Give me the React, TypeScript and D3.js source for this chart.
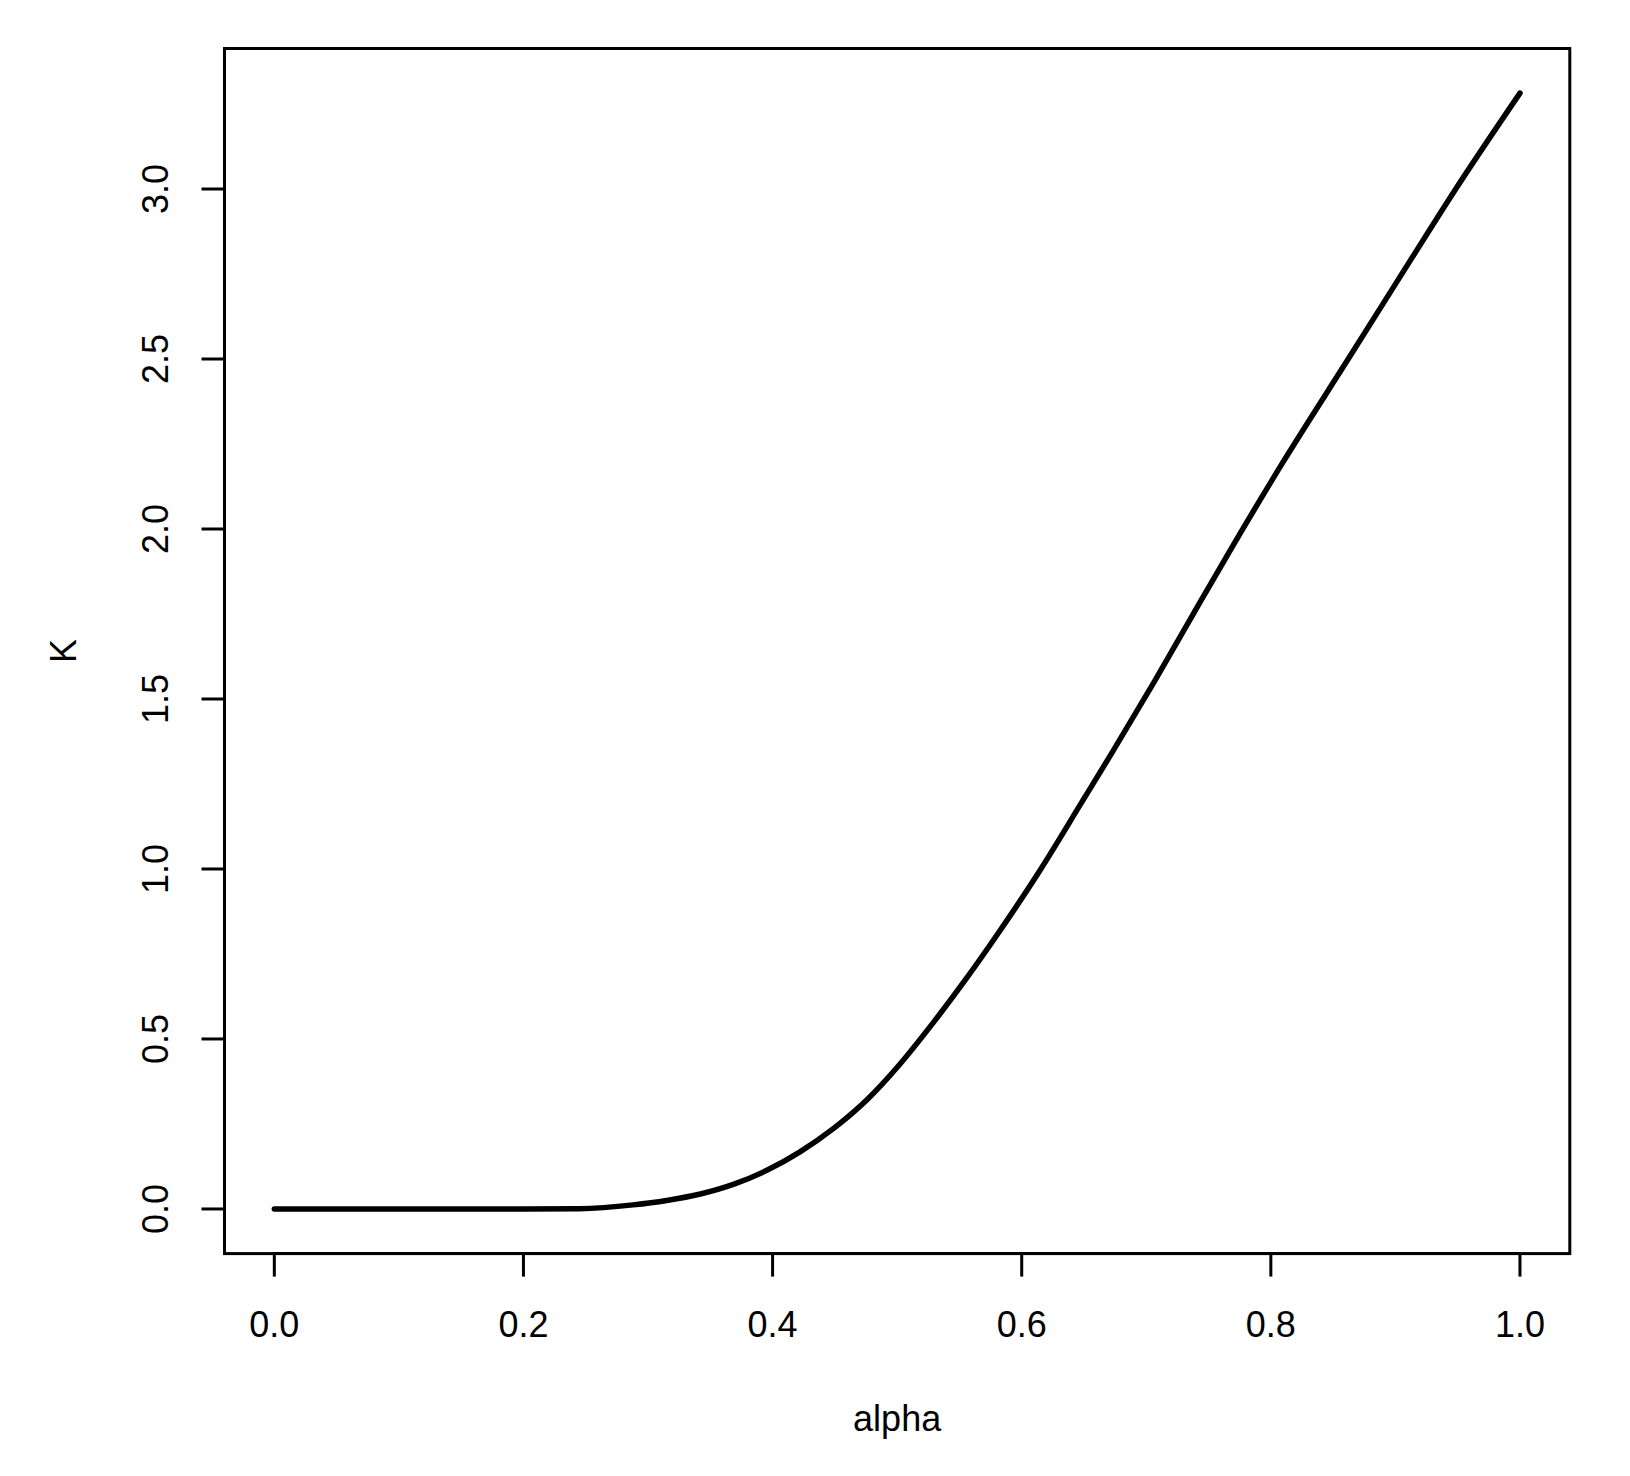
import { useRef, useEffect } from 'react';
import * as d3 from 'd3';

// values
const alpha = [0, 0.1, 0.2, 0.245, 0.288, 0.315, 0.342, 0.369, 0.395, 0.422, 0.449, 0.476, 0.502, 0.529, 0.555, 0.58, 0.615, 0.648, 0.673, 0.706, 0.738, 0.771, 0.81, 0.863, 0.912, 0.947, 1.0];
const kValues = [0, 0, 0, 0.001, 0.012, 0.025, 0.044, 0.073, 0.113, 0.168, 0.237, 0.322, 0.425, 0.548, 0.675, 0.805, 0.998, 1.195, 1.345, 1.548, 1.752, 1.96, 2.198, 2.505, 2.79, 2.992, 3.282];
const xTicks = [0, 0.2, 0.4, 0.6, 0.8, 1.0];
const yTicks = [0, 0.5, 1.0, 1.5, 2.0, 2.5, 3.0];

const W = 1630;
const H = 1476;
const FONT = '"Liberation Sans", Arial, sans-serif';

export default function App() {
  const svgRef = useRef<SVGSVGElement>(null);

  useEffect(() => {
    const svg = d3.select(svgRef.current);
    svg.selectAll('*').remove();

    // R style 4% padding on both ends
    const xMax = d3.max(alpha) as number;
    const yMax = d3.max(kValues) as number;
    const x = d3.scaleLinear().domain([-0.04 * xMax, 1.04 * xMax]).range([224.5, 1569.8]);
    const y = d3.scaleLinear().domain([-0.04 * yMax, 1.04 * yMax]).range([1253.6, 48.5]);

    const [x0, x1] = x.range();
    const [y0, y1] = y.range();

    svg.append('rect')
      .attr('x', x0).attr('y', y1)
      .attr('width', x1 - x0).attr('height', y0 - y1)
      .attr('fill', 'none').attr('stroke', '#000').attr('stroke-width', 3);

    // x axis
    const gx = svg.append('g').attr('transform', `translate(0,${y0})`);
    gx.append('line')
      .attr('x1', x(xTicks[0])).attr('x2', x(xTicks[xTicks.length - 1]))
      .attr('stroke', '#000').attr('stroke-width', 3);
    gx.selectAll('line.tick').data(xTicks).join('line')
      .attr('class', 'tick')
      .attr('x1', (d) => x(d)).attr('x2', (d) => x(d))
      .attr('y1', 0).attr('y2', 23)
      .attr('stroke', '#000').attr('stroke-width', 3);
    gx.selectAll('text').data(xTicks).join('text')
      .attr('x', (d) => x(d)).attr('y', 83.5)
      .attr('text-anchor', 'middle')
      .attr('font-family', FONT).attr('font-size', 36)
      .text((d) => d.toFixed(1));

    // y axis
    const gy = svg.append('g').attr('transform', `translate(${x0},0)`);
    gy.append('line')
      .attr('y1', y(yTicks[0])).attr('y2', y(yTicks[yTicks.length - 1]))
      .attr('stroke', '#000').attr('stroke-width', 3);
    gy.selectAll('line.tick').data(yTicks).join('line')
      .attr('class', 'tick')
      .attr('y1', (d) => y(d)).attr('y2', (d) => y(d))
      .attr('x1', 0).attr('x2', -23)
      .attr('stroke', '#000').attr('stroke-width', 3);
    gy.selectAll('text').data(yTicks).join('text')
      .attr('transform', (d) => `translate(-56.5,${y(d)}) rotate(-90)`)
      .attr('text-anchor', 'middle')
      .attr('font-family', FONT).attr('font-size', 36)
      .text((d) => d.toFixed(1));

    // titles
    svg.append('text')
      .attr('x', (x0 + x1) / 2).attr('y', 1431)
      .attr('text-anchor', 'middle')
      .attr('font-family', FONT).attr('font-size', 36)
      .text('alpha');
    svg.append('text')
      .attr('transform', `translate(76,${(y0 + y1) / 2}) rotate(-90)`)
      .attr('text-anchor', 'middle')
      .attr('font-family', FONT).attr('font-size', 36)
      .text('K');

    const line = d3.line<number>()
      .x((d, i) => x(alpha[i]))
      .y((d) => y(d))
      .curve(d3.curveMonotoneX);

    svg.append('path')
      .datum(kValues)
      .attr('d', line)
      .attr('fill', 'none')
      .attr('stroke', '#000')
      .attr('stroke-width', 5.5)
      .attr('stroke-linecap', 'round')
      .attr('stroke-linejoin', 'round');
  }, []);

  return (
    <svg
      ref={svgRef}
      width={W}
      height={H}
      style={{ position: 'absolute', left: 0, top: 0, background: '#fff' }}
    />
  );
}
